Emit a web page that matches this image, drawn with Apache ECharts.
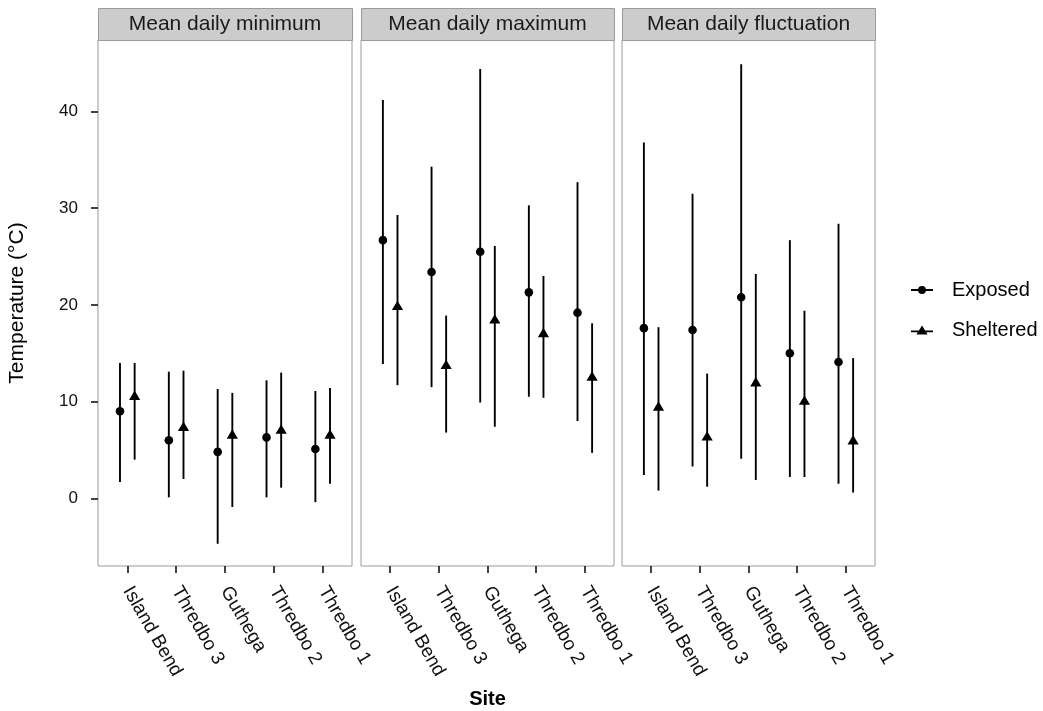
<!DOCTYPE html>
<html>
<head>
<meta charset="utf-8">
<script src="https://cdn.jsdelivr.net/npm/echarts@6/dist/echarts.min.js"></script>
<style>
  html, body { margin: 0; padding: 0; background: #fff; }
  #chart { width: 1043px; height: 711px; }
</style>
</head>
<body>
<div id="chart"></div>
<script>
var sites = ['Island Bend', 'Thredbo 3', 'Guthega', 'Thredbo 2', 'Thredbo 1'];
var panels = ['Mean daily minimum', 'Mean daily maximum', 'Mean daily fluctuation'];
var yTicks = [0, 10, 20, 30, 40];

// mean daily minimum
var minExpMean = [9.0, 6.0, 4.8, 6.3, 5.1];
var minExpLow = [1.7, 0.1, -4.7, 0.1, -0.4];
var minExpHigh = [14.0, 13.1, 11.3, 12.2, 11.1];
var minShMean = [10.5, 7.3, 6.5, 7.0, 6.5];
var minShLow = [4.0, 2.0, -0.9, 1.1, 1.5];
var minShHigh = [14.0, 13.2, 10.9, 13.0, 11.4];

// mean daily maximum
var maxExpMean = [26.7, 23.4, 25.5, 21.3, 19.2];
var maxExpLow = [13.9, 11.5, 9.9, 10.5, 8.0];
var maxExpHigh = [41.2, 34.3, 44.4, 30.3, 32.7];
var maxShMean = [19.8, 13.7, 18.4, 17.0, 12.5];
var maxShLow = [11.7, 6.8, 7.4, 10.4, 4.7];
var maxShHigh = [29.3, 18.9, 26.1, 23.0, 18.1];

// mean daily fluctuation
var flucExpMean = [17.6, 17.4, 20.8, 15.0, 14.1];
var flucExpLow = [2.4, 3.3, 4.1, 2.2, 1.5];
var flucExpHigh = [36.8, 31.5, 44.9, 26.7, 28.4];
var flucShMean = [9.4, 6.3, 11.9, 10.0, 5.9];
var flucShLow = [0.8, 1.2, 1.9, 2.2, 0.6];
var flucShHigh = [17.7, 12.9, 23.2, 19.4, 14.5];

var expSets = [[minExpMean, minExpLow, minExpHigh], [maxExpMean, maxExpLow, maxExpHigh], [flucExpMean, flucExpLow, flucExpHigh]];
var shSets = [[minShMean, minShLow, minShHigh], [maxShMean, maxShLow, maxShHigh], [flucShMean, flucShLow, flucShHigh]];

var gridBoxes = [
  { left: 98, top: 40, width: 254, height: 526 },
  { left: 361, top: 40, width: 253, height: 526 },
  { left: 622, top: 40, width: 253, height: 526 }
];
var font = 'Liberation Sans, Arial, sans-serif';

function rows(set) {
  return sites.map(function (s, i) { return [i, set[1][i], set[2][i], set[0][i]]; });
}

function errRender(dodge, shape) {
  return function (params, api) {
    var x = api.value(0) + dodge;
    var lo = api.coord([x, api.value(1)]);
    var hi = api.coord([x, api.value(2)]);
    var m = api.coord([x, api.value(3)]);
    var mark;
    if (shape === 'circle') {
      mark = { type: 'circle', shape: { cx: m[0], cy: m[1], r: 4.3 }, style: { fill: '#000' } };
    } else {
      mark = { type: 'polygon', shape: { points: [[m[0], m[1] - 6.2], [m[0] + 5.6, m[1] + 3.2], [m[0] - 5.6, m[1] + 3.2]] }, style: { fill: '#000' } };
    }
    return {
      type: 'group',
      children: [
        { type: 'line', shape: { x1: lo[0], y1: lo[1], x2: hi[0], y2: hi[1] }, style: { stroke: '#000', lineWidth: 1.9 } },
        mark
      ]
    };
  };
}

var grids = [], xAxes = [], yAxes = [], series = [], graphics = [];
panels.forEach(function (p, k) {
  var g = gridBoxes[k];
  grids.push({
    left: g.left, top: g.top, width: g.width, height: g.height,
    show: true, borderColor: '#9a9a9a', borderWidth: 1, backgroundColor: '#fff',
    containLabel: false, outerBoundsMode: 'none'
  });
  xAxes.push({
    type: 'value', gridIndex: k, min: -0.6, max: 4.6,
    axisLine: { show: false, onZero: false },
    splitLine: { show: false },
    axisTick: { show: true, length: 7, customValues: [0, 1, 2, 3, 4], lineStyle: { color: '#222', width: 1.7 } },
    axisLabel: {
      customValues: [0, 1, 2, 3, 4], rotate: -60, margin: 22,
      fontFamily: font, fontSize: 19, color: '#111',
      formatter: function (v) { return sites[Math.round(v)]; }
    },
    name: k === 1 ? 'Site' : '', nameLocation: 'middle', nameGap: 123,
    nameTextStyle: { fontFamily: font, fontSize: 20, fontWeight: 'bold', color: '#000' }
  });
  yAxes.push({
    type: 'value', gridIndex: k, min: -7, max: 47.4,
    axisLine: { show: false, onZero: false },
    splitLine: { show: false },
    axisTick: { show: k === 0, length: 7, customValues: yTicks, lineStyle: { color: '#222', width: 1.7 } },
    axisLabel: {
      show: k === 0, customValues: yTicks, margin: 20,
      fontFamily: font, fontSize: 17, color: '#111'
    },
    name: k === 0 ? 'Temperature (\u00B0C)' : '', nameLocation: 'middle', nameGap: 70,
    nameTextStyle: { fontFamily: font, fontSize: 21, color: '#000' }
  });
  series.push({
    name: 'Exposed', type: 'custom', xAxisIndex: k, yAxisIndex: k,
    itemStyle: { color: '#000' },
    renderItem: errRender(-0.15, 'circle'), data: rows(expSets[k])
  });
  series.push({
    name: 'Sheltered', type: 'custom', xAxisIndex: k, yAxisIndex: k,
    itemStyle: { color: '#000' },
    renderItem: errRender(0.15, 'triangle'), data: rows(shSets[k])
  });
  graphics.push({
    type: 'rect', left: g.left, top: 8,
    shape: { width: g.width, height: 32 },
    style: { fill: '#cccccc', stroke: '#9a9a9a', lineWidth: 1 }
  });
  graphics.push({
    type: 'text', x: g.left + g.width / 2, y: 24,
    style: { text: p, fontFamily: font, fontSize: 21, fill: '#1a1a1a', align: 'center', verticalAlign: 'middle' }
  });
});

var circleIcon = 'path://M0,4.05H8V5.95H0Z M14,4.05H22V5.95H14Z M7,5A4,4 0 1,1 15,5A4,4 0 1,1 7,5Z';
var triIcon = 'path://M0,4.05H8V5.95H0Z M14,4.05H22V5.95H14Z M11,-1L16.6,8.2L5.4,8.2Z';

var chart = echarts.init(document.getElementById('chart'));
chart.setOption({
  animation: false,
  backgroundColor: '#fff',
  grid: grids,
  xAxis: xAxes,
  yAxis: yAxes,
  legend: {
    orient: 'vertical', left: 911, top: 280, padding: 0,
    itemWidth: 22, itemHeight: 10, itemGap: 20,
    selectedMode: false,
    textStyle: { fontFamily: font, fontSize: 20, color: '#000', padding: [0, 0, 0, 14], lineHeight: 20 },
    data: [
      { name: 'Exposed', icon: circleIcon, itemStyle: { color: '#000' } },
      { name: 'Sheltered', icon: triIcon, itemStyle: { color: '#000' } }
    ]
  },
  graphic: graphics,
  series: series
});
</script>
</body>
</html>
